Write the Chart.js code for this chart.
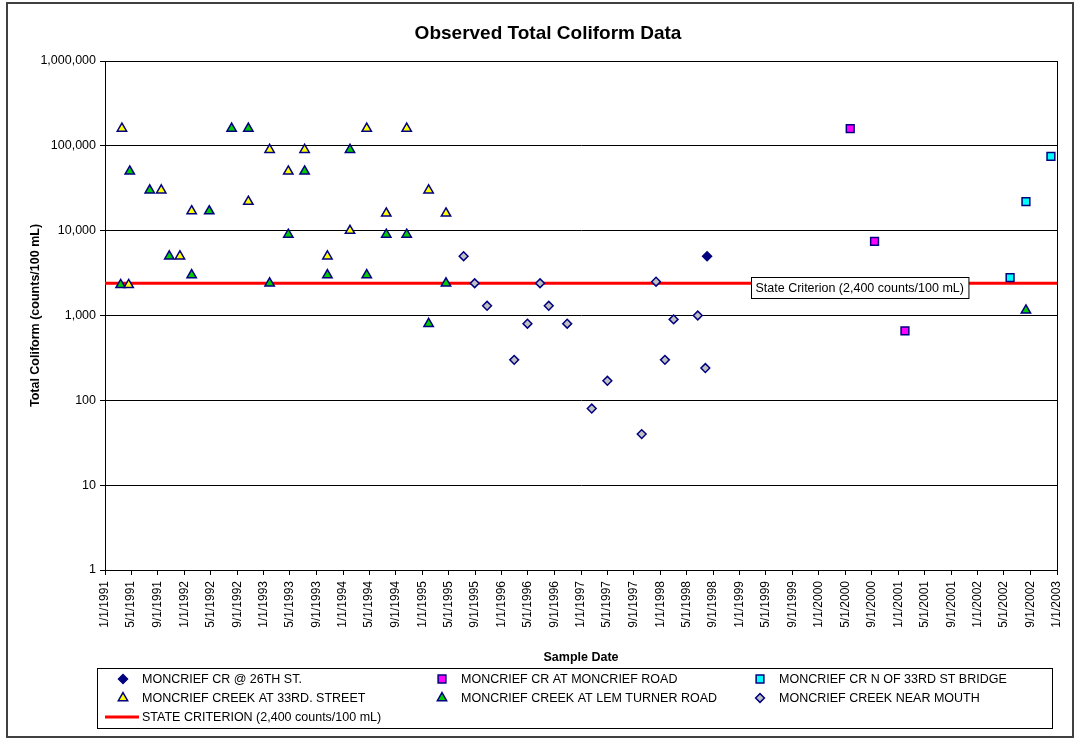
<!DOCTYPE html>
<html>
<head>
<meta charset="utf-8">
<title>Observed Total Coliform Data</title>
<script src="https://cdn.jsdelivr.net/npm/chart.js@4.4.1/dist/chart.umd.min.js"></script>
<style>
  body { margin: 0; background: #fff; }
</style>
</head>
<body>
<canvas id="coliformChart" width="1078" height="740"></canvas>
<script>
// ---- data ----
const xTickLabels = ['1/1/1991','5/1/1991','9/1/1991','1/1/1992','5/1/1992','9/1/1992','1/1/1993','5/1/1993','9/1/1993',
  '1/1/1994','5/1/1994','9/1/1994','1/1/1995','5/1/1995','9/1/1995','1/1/1996','5/1/1996','9/1/1996',
  '1/1/1997','5/1/1997','9/1/1997','1/1/1998','5/1/1998','9/1/1998','1/1/1999','5/1/1999','9/1/1999',
  '1/1/2000','5/1/2000','9/1/2000','1/1/2001','5/1/2001','9/1/2001','1/1/2002','5/1/2002','9/1/2002','1/1/2003'];
const yTicks = [1, 10, 100, 1000, 10000, 100000, 1000000];

const st26Dates = ['1998-08-04'];
const st26Values = [5000];

const moncriefRdDates = ['2000-05-24', '2000-09-13', '2001-01-31'];
const moncriefRdValues = [160000, 7500, 660];

const bridgeDates = ['2002-05-30', '2002-08-11', '2002-12-04'];
const bridgeValues = [2800, 22000, 75000];

const st33Dates = ['1991-03-20','1991-04-20','1991-09-17','1991-12-12','1992-02-04','1992-10-22','1993-01-28','1993-04-24',
  '1993-07-08','1993-10-21','1994-02-02','1994-04-20','1994-07-19','1994-10-21','1995-01-30','1995-04-20'];
const st33Values = [160000, 2300, 30000, 5000, 17000, 22000, 90000, 50000,
  90000, 5000, 10000, 160000, 16000, 160000, 30000, 16000];

const lemTurnerDates = ['1991-03-14','1991-04-25','1991-07-26','1991-10-24','1992-02-04','1992-04-25','1992-08-06','1992-10-22',
  '1993-01-28','1993-04-24','1993-07-08','1993-10-21','1994-02-02','1994-04-20','1994-07-19','1994-10-21',
  '1995-01-30','1995-04-20','2002-08-11'];
const lemTurnerValues = [2300, 50000, 30000, 5000, 3000, 17000, 160000, 160000,
  2400, 9000, 50000, 3000, 90000, 3000, 9000, 9000,
  800, 2400, 1150];

const mouthDates = ['1995-07-10','1995-08-30','1995-10-26','1996-02-28','1996-04-29','1996-06-26','1996-08-05','1996-10-29',
  '1997-02-19','1997-05-02','1997-10-07','1997-12-12','1998-01-22','1998-03-03','1998-06-22','1998-07-27'];
const mouthValues = [5000, 2400, 1300, 300, 800, 2400, 1300, 800,
  80, 170, 40, 2500, 300, 900, 1000, 240];

const criterionDates = ['1991-01-01', '2003-01-01'];
const criterionValues = [2400, 2400];
const criterionLabel = 'State Criterion (2,400 counts/100 mL)';
const criterionLabelDate = '1999-02-22';

// ---- helpers ----
function dayMs(iso) {
  const p = iso.split('-');
  return Date.UTC(+p[0], +p[1] - 1, +p[2]);
}
function tickMs(label) {
  const p = label.split('/');
  return Date.UTC(+p[2], +p[0] - 1, +p[1]);
}
function toPoints(dates, values) {
  return dates.map((d, i) => ({ x: dayMs(d), y: values[i] }));
}

const FONT = 'Arial, "Liberation Sans", sans-serif';
const NAVY = '#000080';

function markerSet(label, dates, values, style, fill, radius) {
  return {
    label: label,
    data: toPoints(dates, values),
    showLine: false,
    pointStyle: style,
    pointRadius: radius,
    pointHoverRadius: radius,
    pointBackgroundColor: fill,
    pointBorderColor: NAVY,
    pointBorderWidth: 1.5,
    backgroundColor: fill,
    borderColor: NAVY,
    order: 1
  };
}

const datasets = [
  markerSet('MONCRIEF CR @ 26TH ST.', st26Dates, st26Values, 'rectRot', NAVY, 4.5),
  markerSet('MONCRIEF CR AT MONCRIEF ROAD', moncriefRdDates, moncriefRdValues, 'rect', '#FF00FF', 5.5),
  markerSet('MONCRIEF CR N OF 33RD ST BRIDGE', bridgeDates, bridgeValues, 'rect', '#00FFFF', 5.5),
  markerSet('MONCRIEF CREEK AT 33RD. STREET', st33Dates, st33Values, 'triangle', '#FFFF00', 5.4),
  markerSet('MONCRIEF CREEK AT LEM TURNER ROAD', lemTurnerDates, lemTurnerValues, 'triangle', '#00CC00', 5.4),
  markerSet('MONCRIEF CREEK NEAR MOUTH', mouthDates, mouthValues, 'rectRot', '#C0C0C0', 4.4),
  {
    type: 'line',
    label: 'STATE CRITERION (2,400 counts/100 mL)',
    data: toPoints(criterionDates, criterionValues),
    borderColor: '#FF0000',
    backgroundColor: '#FF0000',
    borderWidth: 3,
    pointRadius: 0,
    fill: false,
    order: 10
  }
];

// plot border (right edge + top)
const plotBorder = {
  id: 'plotBorder',
  beforeDatasetsDraw(chart) {
    const a = chart.chartArea, ctx = chart.ctx;
    ctx.save();
    ctx.strokeStyle = '#000';
    ctx.lineWidth = 1;
    ctx.strokeRect(a.left + 0.5, a.top + 0.5, a.right - a.left, a.bottom - a.top);
    ctx.restore();
  }
};

// the boxed criterion label on the red line
const criterionBox = {
  id: 'criterionBox',
  afterDatasetsDraw(chart) {
    const ctx = chart.ctx;
    const x = chart.scales.x.getPixelForValue(dayMs(criterionLabelDate));
    const yLine = chart.scales.y.getPixelForValue(criterionValues[0]);
    ctx.save();
    ctx.font = '12.5px ' + FONT;
    const w = ctx.measureText(criterionLabel).width + 9;
    const top = Math.round(yLine - 6) + 0.5;
    const left = Math.round(x) + 0.5;
    ctx.fillStyle = '#fff';
    ctx.fillRect(left, top, w, 21);
    ctx.strokeStyle = '#000';
    ctx.lineWidth = 1;
    ctx.strokeRect(left, top, w, 21);
    ctx.fillStyle = '#000';
    ctx.textBaseline = 'middle';
    ctx.fillText(criterionLabel, left + 4, top + 11);
    ctx.restore();
  }
};

// bottom legend box with three columns, plus outer frame
const boxLegend = {
  id: 'boxLegend',
  afterDraw(chart) {
    const ctx = chart.ctx;
    ctx.save();
    // outer frame
    ctx.strokeStyle = '#404040';
    ctx.lineWidth = 2;
    ctx.strokeRect(7, 3, 1066, 734);
    // legend frame
    ctx.strokeStyle = '#000';
    ctx.lineWidth = 1;
    ctx.strokeRect(97.5, 668.5, 955, 60);

    const colX = [123, 442, 760];
    const rowY = [679, 698, 717];
    ctx.font = '12.5px ' + FONT;
    ctx.textBaseline = 'middle';
    chart.data.datasets.forEach((ds, i) => {
      const cx = colX[i % 3], cy = rowY[Math.floor(i / 3)];
      if (ds.type === 'line') {
        ctx.strokeStyle = ds.borderColor;
        ctx.lineWidth = 3;
        ctx.beginPath();
        ctx.moveTo(105, cy);
        ctx.lineTo(139, cy);
        ctx.stroke();
      } else {
        ctx.fillStyle = ds.pointBackgroundColor;
        ctx.strokeStyle = ds.pointBorderColor;
        ctx.lineWidth = 1.5;
        Chart.helpers.drawPoint(ctx, {
          pointStyle: ds.pointStyle,
          radius: ds.pointRadius,
          rotation: 0,
          borderWidth: 1.5
        }, cx, cy);
      }
      ctx.fillStyle = '#000';
      ctx.fillText(ds.label, cx + 19, cy + 1);
    });
    ctx.restore();
  }
};

const ctx = document.getElementById('coliformChart');

new Chart(ctx, {
  type: 'scatter',
  data: { datasets: datasets },
  plugins: [plotBorder, criterionBox, boxLegend],
  options: {
    responsive: false,
    animation: false,
    devicePixelRatio: 1,
    layout: { padding: { top: 0, left: 18, right: 0, bottom: 75 } },
    plugins: {
      legend: { display: false },
      tooltip: { enabled: false },
      title: {
        display: true,
        text: 'Observed Total Coliform Data',
        color: '#000',
        font: { family: FONT, size: 19, weight: 'bold' },
        padding: { top: 22.6, bottom: 15.6 }
      }
    },
    scales: {
      x: {
        type: 'linear',
        min: tickMs(xTickLabels[0]),
        max: tickMs(xTickLabels[xTickLabels.length - 1]),
        afterBuildTicks: (scale) => {
          scale.ticks = xTickLabels.map(l => ({ value: tickMs(l) }));
        },
        afterFit: (scale) => { scale.height = 95; },
        ticks: {
          autoSkip: false,
          minRotation: 90,
          maxRotation: 90,
          padding: 6,
          color: '#000',
          font: { family: FONT, size: 12 },
          callback: (value, index) => xTickLabels[index]
        },
        grid: { drawOnChartArea: false, drawTicks: true, tickLength: 5, color: '#000' },
        border: { display: true, color: '#000', width: 1 },
        title: {
          display: true,
          text: 'Sample Date',
          color: '#000',
          font: { family: FONT, size: 12.5, weight: 'bold' },
          padding: { top: 0, bottom: 0 }
        }
      },
      y: {
        type: 'logarithmic',
        min: yTicks[0],
        max: yTicks[yTicks.length - 1],
        afterBuildTicks: (scale) => {
          scale.ticks = yTicks.map(v => ({ value: v }));
        },
        afterFit: (scale) => { scale.width = 87; },
        ticks: {
          padding: 4,
          color: '#000',
          font: { family: FONT, size: 12.5 },
          callback: (value) => Number(value).toLocaleString('en-US')
        },
        grid: { color: '#000', lineWidth: 1, tickLength: 5 },
        border: { display: true, color: '#000', width: 1 },
        title: {
          display: true,
          text: 'Total Coliform (counts/100 mL)',
          color: '#000',
          font: { family: FONT, size: 12.5, weight: 'bold' },
          padding: { top: 10, bottom: 0 }
        }
      },
      // empty spacer on the right so the plot ends where the reference does
      yRight: {
        type: 'linear',
        position: 'right',
        display: true,
        afterFit: (scale) => { scale.width = 21; },
        ticks: { display: false },
        grid: { display: false, drawTicks: false },
        border: { display: false }
      }
    }
  }
});
</script>
</body>
</html>
